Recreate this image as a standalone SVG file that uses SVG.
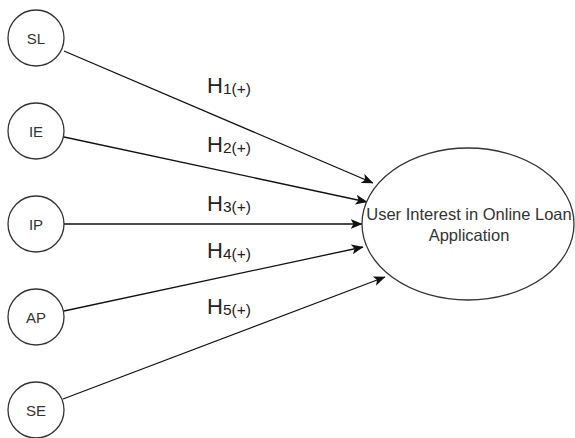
<svg xmlns="http://www.w3.org/2000/svg" width="575" height="438" viewBox="0 0 575 438">
<defs>
<style>
.n{fill:#fff;stroke:#333;stroke-width:1.3}
.t{font-family:"Liberation Sans",Arial,sans-serif;font-size:15px;fill:#333;text-anchor:middle}
.c{stroke:#111;stroke-width:1.3;fill:none;marker-end:url(#ah)}
.h{font-family:"Liberation Sans",Arial,sans-serif;font-size:22px;fill:#222}
.s{font-size:15.5px}
</style>
<marker id="ah" markerUnits="userSpaceOnUse" viewBox="0 0 12 10" refX="11.5" refY="5" markerWidth="12" markerHeight="10" orient="auto">
<path d="M0,0 L12,5 L0,10 L3,5 Z" fill="#111"/>
</marker>
</defs>
<rect width="575" height="438" fill="#fff"/>
<g id="connectors">
<line class="c" x1="64" y1="51" x2="373" y2="183"/>
<line class="c" x1="64" y1="137" x2="367" y2="202"/>
<line class="c" x1="64" y1="224" x2="362" y2="224"/>
<line class="c" x1="64" y1="311" x2="363" y2="247"/>
<line class="c" x1="63" y1="399" x2="385" y2="277"/>
</g>
<g id="SL"><circle class="n" cx="36" cy="38" r="28"/><text class="t" x="36" y="43.5">SL</text></g>
<g id="IE"><circle class="n" cx="36" cy="131" r="28"/><text class="t" x="36" y="136.5">IE</text></g>
<g id="IP"><circle class="n" cx="36" cy="224" r="28"/><text class="t" x="36" y="229.5">IP</text></g>
<g id="AP"><circle class="n" cx="36" cy="317" r="28"/><text class="t" x="36" y="322.5">AP</text></g>
<g id="SE"><circle class="n" cx="36" cy="410" r="28"/><text class="t" x="36" y="415.5">SE</text></g>
<g id="target"><ellipse class="n" cx="468" cy="224" rx="106" ry="76"/>
<text class="t" style="font-size:16.5px" x="469" y="220">User Interest in Online Loan</text>
<text class="t" style="font-size:16.5px" x="469" y="241">Application</text></g>
<g id="labels">
<text class="h" x="207" y="93">H<tspan class="s" dy="1">1(+)</tspan></text>
<text class="h" x="207" y="152">H<tspan class="s" dy="1">2(+)</tspan></text>
<text class="h" x="207" y="211">H<tspan class="s" dy="1">3(+)</tspan></text>
<text class="h" x="207" y="258">H<tspan class="s" dy="1">4(+)</tspan></text>
<text class="h" x="207" y="314">H<tspan class="s" dy="1">5(+)</tspan></text>
</g>
</svg>
